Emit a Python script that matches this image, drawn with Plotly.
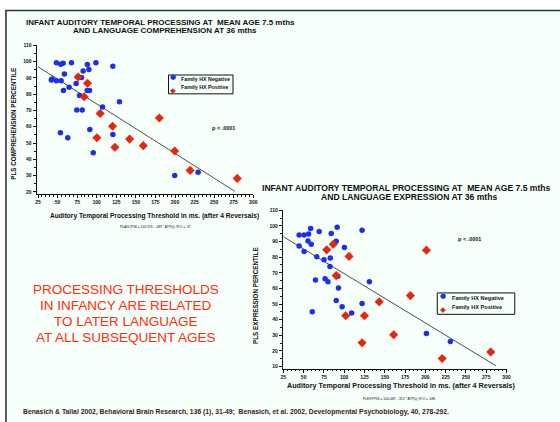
import plotly.graph_objects as go

# ---------------- data ----------------
# Chart 1: comprehension
C1_NEG_X = [48.5, 54, 57, 67.7, 88, 99, 120.6, 82.6, 90, 58.7, 42, 43, 48.5, 54.5, 73.7,
            64.7, 57.5, 87.8, 90.8, 80.5, 78, 107.4, 129, 74.5, 81.4, 91.2, 53.6, 63,
            120.6, 95.5, 199.6, 229.5]
C1_NEG_Y = [99.3, 98.4, 99, 99.3, 98.2, 99.3, 97.2, 94.2, 95.2, 92.4, 88.7, 89.3, 88.3, 88.3, 86.5,
            84.3, 82.2, 82.2, 82.2, 90.3, 79.2, 72.1, 75.3, 70.3, 70.3, 58.3, 56.3, 53.2,
            55.3, 44.1, 30.1, 32]
C1_POS_X = [76.2, 88.2, 83.9, 104.4, 120.2, 100.2, 123.2, 142, 159.5, 180, 199.6, 219.3, 279.5]
C1_POS_Y = [90.5, 86.7, 78.4, 68.2, 60.3, 53.2, 47.4, 52.4, 48.4, 65.4, 45.1, 33.2, 28.3]
C1_FIT = {"intercept": 104.4, "slope": 0.304, "x_start": 25, "x_end": 276.5}

# Chart 2: expression
C2_NEG_X = [44.4, 50.5, 56.1, 58.6, 69.1, 84, 91.3, 122, 55.3, 59.4, 90.1, 44.4, 50.5, 100.2,
            66.2, 75.1, 82.8, 82.4, 64.6, 76.4, 80, 92.1, 92.9, 131, 90.1, 97.4, 122,
            109.1, 60.6, 201.3, 230.8]
C2_NEG_Y = [94.2, 94.2, 94.8, 98.4, 96.5, 95.2, 99.2, 97.3, 90.4, 88.3, 90.2, 87.2, 83.6, 86.2,
            80.3, 78.4, 79.4, 74.1, 65.3, 66.1, 64.2, 67.8, 60.2, 64.2, 52.2, 48.2, 50.3,
            44.2, 45, 31.1, 26.0]
C2_POS_X = [78.4, 86.5, 90.1, 105.9, 101.8, 124.9, 122, 143.1, 160.9, 181.5, 201.3, 220.7, 280.6]
C2_POS_Y = [84.7, 88.3, 68.2, 80.5, 42.5, 42.5, 25.2, 51.4, 30.3, 55.4, 84.5, 15.1, 19.3]
C2_FIT = {"intercept": 101.0, "slope": 0.3156, "x_start": 25, "x_end": 287}

X_TICKS = [25, 50, 75, 100, 125, 150, 175, 200, 225, 250, 275, 300]
Y1_TICKS = [20, 30, 40, 50, 60, 70, 80, 90, 100, 110]
Y2_TICKS = [10, 20, 30, 40, 50, 60, 70, 80, 90, 100, 110]

SERIES_NAMES = ["Family HX Negative", "Family HX Positive"]

BLUE = "#1b30e8"
RED = "#e6260e"
BG = "#f6fff9"
FONT = "Liberation Sans"

W, H = 560, 422


def px(x):
    return x / W


def py(y):
    return 1 - y / H


fig = go.Figure()


def fit_line(fit):
    xs = [fit["x_start"], fit["x_end"]]
    ys = [fit["intercept"] - fit["slope"] * x for x in xs]
    return xs, ys


# chart 1 traces
fx, fy = fit_line(C1_FIT)
fig.add_trace(go.Scatter(x=fx, y=fy, mode="lines", line=dict(color="#222", width=0.8),
                         showlegend=False, hoverinfo="skip", xaxis="x", yaxis="y"))
fig.add_trace(go.Scatter(x=C1_NEG_X, y=C1_NEG_Y, mode="markers", name=SERIES_NAMES[0],
                         marker=dict(color=BLUE, size=5.5, symbol="circle"),
                         xaxis="x", yaxis="y", showlegend=False))
fig.add_trace(go.Scatter(x=C1_POS_X, y=C1_POS_Y, mode="markers", name=SERIES_NAMES[1],
                         marker=dict(color=RED, size=7, symbol="diamond"),
                         xaxis="x", yaxis="y", showlegend=False))

# chart 2 traces
fx, fy = fit_line(C2_FIT)
fig.add_trace(go.Scatter(x=fx, y=fy, mode="lines", line=dict(color="#222", width=0.8),
                         showlegend=False, hoverinfo="skip", xaxis="x2", yaxis="y2"))
fig.add_trace(go.Scatter(x=C2_NEG_X, y=C2_NEG_Y, mode="markers", name=SERIES_NAMES[0],
                         marker=dict(color=BLUE, size=5.5, symbol="circle"),
                         xaxis="x2", yaxis="y2", showlegend=False))
fig.add_trace(go.Scatter(x=C2_POS_X, y=C2_POS_Y, mode="markers", name=SERIES_NAMES[1],
                         marker=dict(color=RED, size=7, symbol="diamond"),
                         xaxis="x2", yaxis="y2", showlegend=False))

tickfont = dict(family=FONT, size=5, color="#111", weight="bold")
minor = dict(dtick=5, ticklen=1.5, tickcolor="#111", ticks="outside")
axis_common = dict(showgrid=False, zeroline=False, showline=True, linecolor="#111", linewidth=1.2,
                   ticks="outside", ticklen=3, tickcolor="#111", tickwidth=1, tickfont=tickfont,
                   fixedrange=True, minor=minor)

fig.update_layout(
    width=W, height=H, margin=dict(l=0, r=0, t=0, b=0),
    paper_bgcolor="white", plot_bgcolor="rgba(0,0,0,0)",
    showlegend=False,
    xaxis=dict(domain=[px(35), px(254)], range=[23.2, 300], tickvals=X_TICKS, anchor="y", **axis_common),
    yaxis=dict(domain=[py(193), py(42.7)], range=[18.6, 110], tickvals=Y1_TICKS, anchor="x", **axis_common),
    xaxis2=dict(domain=[px(284), px(510)], range=[24.5, 300], tickvals=X_TICKS, anchor="y2", **axis_common),
    yaxis2=dict(domain=[py(369), py(209.3)], range=[8.7, 110], tickvals=Y2_TICKS, anchor="x2", **axis_common),
)

# slide frame
fig.add_shape(type="rect", xref="paper", yref="paper", x0=px(4), x1=1.02, y0=-0.02, y1=py(7.5),
              fillcolor=BG, line=dict(color="#333", width=1.6), layer="below")


def ann(text, x, y, size, color="#111", bold=True, angle=0, xanchor="center", family=FONT,
        yanchor="middle"):
    fig.add_annotation(text=text, x=px(x), y=py(y), xref="paper", yref="paper",
                       showarrow=False, xanchor=xanchor, yanchor=yanchor, textangle=angle,
                       font=dict(family=family, size=size, color=color,
                                 weight="bold" if bold else "normal"))


def legend_box(x0, y0, x1, y1, mx, tx, ys, size):
    fig.add_shape(type="rect", xref="paper", yref="paper", x0=px(x0), x1=px(x1),
                  y0=py(y1), y1=py(y0), fillcolor=BG, line=dict(color="#111", width=1))
    mid = (ys[0] + ys[1]) / 2
    # marker glyphs, stacked on either side of the midline so their boxes do not overlap
    ann("●", mx, mid - 0.4, 7, color=BLUE, bold=False, family="DejaVu Sans", yanchor="bottom")
    ann("◆", mx, mid + 0.4, 7.5, color=RED, bold=False, family="DejaVu Sans", yanchor="top")
    for name, yy in zip(SERIES_NAMES, ys):
        ann(name, tx, yy, size, xanchor="left")


# chart 1 texts
ann("INFANT AUDITORY TEMPORAL PROCESSING AT  MEAN AGE 7.5 mths", 160, 19.3, 8)
ann("AND LANGUAGE COMPREHENSION AT 36 mths", 165, 27.8, 8)
ann("PLS COMPREHENSION PERCENTILE", 12, 122, 6.3, angle=-90)
ann("Auditory Temporal Processing Threshold in ms. (after 4 Reversals)", 154, 215, 6.6)
ann("PLADCP36 = 103.376 - .289 * ATP(ii); R^2 = .37", 155.5, 226.5, 3.3, bold=False)
ann("p < .0001", 224, 126.5, 5.5)
legend_box(168.3, 72.7, 233.5, 91.7, 173.3, 179, [77.2, 85.3], 5.3)

# chart 2 texts
ann("INFANT AUDITORY TEMPORAL PROCESSING AT  MEAN AGE 7.5 mths", 409, 186.5, 8.6)
ann("AND LANGUAGE EXPRESSION AT 36 mths", 411, 196, 8.6)
ann("PLS EXPRESSION PERCENTILE", 255.5, 295, 6.3, angle=-90)
ann("Auditory Temporal Processing Threshold in ms. (after 4 Reversals)", 404, 386.5, 7.2)
ann("PLEXPP36 = 100.049 - .313 * ATP(ii); R^2 = .486", 401, 399.3, 3.3, bold=False)
ann("p < .0001", 473, 238.5, 5.5)
legend_box(440, 292.7, 518.3, 314.3, 446, 453, [297.8, 306.8], 5.6)

# red message
RED_MSG = ["PROCESSING THRESHOLDS", "IN INFANCY ARE RELATED", "TO LATER LANGUAGE", "AT ALL SUBSEQUENT AGES"]
for i, line in enumerate(RED_MSG):
    ann(line, 125, 289.5 + 16 * i, 13.5, color="#ff2d0f", bold=False)

# footnote
ann("Benasich & Tallal 2002, Behavioral Brain Research, 136 (1), 31-49;  Benasich, et al. 2002, "
    "Developmental Psychobiology, 40, 278-292.", 19, 413.3, 6.8, color="#3a2222", xanchor="left")

fig.write_html("out.html")
